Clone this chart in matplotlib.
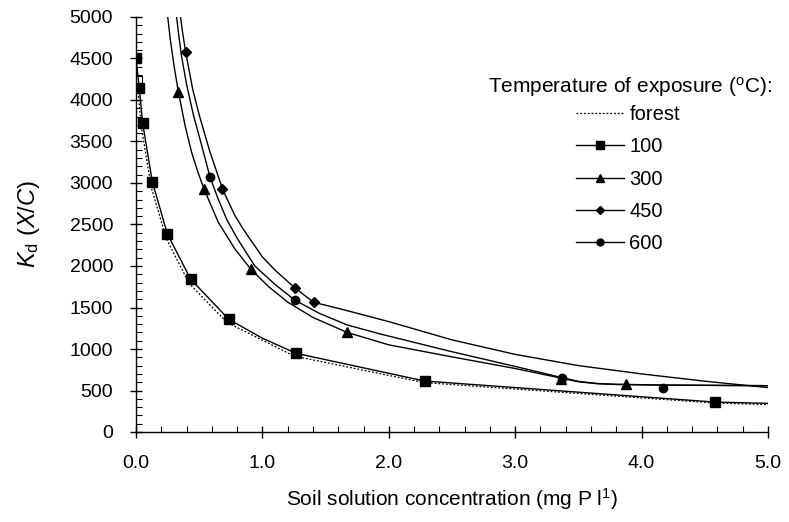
import numpy as np
import matplotlib
matplotlib.use("Agg")
from matplotlib import pyplot as plt
from matplotlib.ticker import MultipleLocator, FormatStrFormatter

plt.rcParams['font.family'] = ['Liberation Sans', 'DejaVu Sans']
plt.rcParams['mathtext.fontset'] = 'custom'
plt.rcParams['mathtext.rm'] = 'Liberation Sans'
plt.rcParams['mathtext.it'] = 'Liberation Sans:italic'

# --- data ---
# forest (dotted line, open square at first point)
forest_x = [0.01, 0.04, 0.12, 0.24, 0.42, 0.72, 1.25, 2.28, 4.57, 5.0]
forest_y = [4229, 3700, 2950, 2330, 1790, 1320, 915, 595, 350, 330]

# 100 degC
t100_x = [0.0, 0.026, 0.052, 0.129, 0.248, 0.433, 0.734, 1.266, 2.285, 4.577]
t100_y = [4502, 4148, 3726, 3016, 2386, 1840, 1358, 948, 614, 361]
t100_curve_x = [0.0, 0.026, 0.052, 0.129, 0.248, 0.433, 0.734, 1.0, 1.266, 2.285, 4.577, 5.0]
t100_curve_y = [4502, 4148, 3726, 3016, 2386, 1840, 1358, 1130, 948, 614, 361, 345]

# 300 degC
t300_x = [0.335, 0.538, 0.909, 1.67, 3.36, 3.88]
t300_y = [4100, 2928, 1960, 1201, 640, 575]
t300_curve_x = [0.24, 0.27, 0.30, 0.335, 0.39, 0.44, 0.49, 0.538, 0.65, 0.78, 0.909, 1.05,
                1.2, 1.4, 1.67, 2.0, 2.5, 3.0, 3.36, 3.5, 3.65, 3.8, 4.2, 5.0]
t300_curve_y = [5150, 4745, 4420, 4100, 3680, 3370, 3130, 2928, 2530, 2210, 1960, 1750,
                1565, 1380, 1200, 1050, 905, 765, 650, 605, 582, 572, 564, 558]

# 450 degC
t450_x = [0.393, 0.684, 1.255, 1.405]
t450_y = [4574, 2928, 1739, 1563]
t450_curve_x = [0.34, 0.365, 0.393, 0.45, 0.50, 0.58, 0.684, 0.78, 0.85, 1.0, 1.1, 1.255,
                1.405, 1.6, 2.0, 2.5, 3.0, 3.5, 4.0, 4.5, 5.0]
t450_curve_y = [5150, 4850, 4574, 4120, 3820, 3400, 2928, 2615, 2440, 2110, 1950, 1739,
                1563, 1490, 1330, 1110, 935, 800, 700, 612, 535]

# 600 degC
t600_x = [0.586, 1.255, 3.37, 4.17]
t600_y = [3068, 1590, 655, 534]
t600_curve_x = [0.31, 0.335, 0.36, 0.40, 0.454, 0.52, 0.586, 0.65, 0.718, 0.8, 0.94, 1.1,
                1.255, 1.45, 1.67, 1.935, 2.5, 3.0, 3.37, 3.5, 3.65, 3.8, 4.17, 5.0]
t600_curve_y = [5150, 4820, 4530, 4190, 3820, 3450, 3068, 2808, 2560, 2335, 2000, 1778,
                1590, 1430, 1290, 1180, 967, 790, 655, 610, 584, 575, 566, 558]

legend_labels = ['forest', '100', '300', '450', '600']

fig = plt.figure(figsize=(7.89, 5.22), dpi=100)
ax = fig.add_axes([136 / 789, 1 - 432 / 522, (768 - 136) / 789, (432 - 17) / 522])

lw = 1.0
h_forest, = ax.plot(forest_x, forest_y, color='black', lw=0.9, ls=(0, (1.5, 1.5)))
ax.plot(forest_x[:1], forest_y[:1], 's', ms=7.5, mfc='white', mec='black', mew=0.8)

ax.plot(t100_curve_x, t100_curve_y, color='black', lw=lw)
ax.plot(t100_x, t100_y, 's', color='black', ms=7.5)
ax.plot(t300_curve_x, t300_curve_y, color='black', lw=lw)
ax.plot(t300_x, t300_y, '^', color='black', ms=7)
ax.plot(t450_curve_x, t450_curve_y, color='black', lw=lw)
ax.plot(t450_x, t450_y, 'D', color='black', ms=5.5)
ax.plot(t600_curve_x, t600_curve_y, color='black', lw=lw)
ax.plot(t600_x, t600_y, 'o', color='black', ms=6)

# legend handles
h100, = ax.plot([], [], '-s', color='black', lw=lw, ms=6)
h300, = ax.plot([], [], '-^', color='black', lw=lw, ms=6)
h450, = ax.plot([], [], '-D', color='black', lw=lw, ms=4.5)
h600, = ax.plot([], [], '-o', color='black', lw=lw, ms=5)

ax.set_xlim(0, 5)
ax.set_ylim(0, 5000)
ax.spines['top'].set_visible(False)
ax.spines['right'].set_visible(False)
for s in ['left', 'bottom']:
    ax.spines[s].set_linewidth(1.0)

ax.xaxis.set_major_locator(MultipleLocator(1.0))
ax.xaxis.set_minor_locator(MultipleLocator(0.2))
ax.xaxis.set_major_formatter(FormatStrFormatter('%.1f'))
ax.yaxis.set_major_locator(MultipleLocator(500))
ax.yaxis.set_minor_locator(MultipleLocator(100))
ax.tick_params(axis='both', which='major', direction='inout', length=9, width=1.0, labelsize=14)
ax.tick_params(axis='both', which='minor', direction='in', length=4, width=0.8)
ax.tick_params(axis='x', which='major', pad=12)
ax.tick_params(axis='y', which='major', pad=12)

ax.set_xlabel(r'Soil solution concentration (mg P l$^{1}$)', fontsize=15, labelpad=10)
ax.set_ylabel(r'$K_{\mathrm{d}}$ $(X/C)$', fontsize=17, labelpad=20)

fig.text(772 / 789, 1 - 87 / 522, r'Temperature of exposure ($^{\mathrm{o}}$C):',
         ha='right', va='center', fontsize=15)
ax.legend([h_forest, h100, h300, h450, h600], legend_labels,
          loc='upper left', bbox_to_anchor=(566 / 789, 1 - 95 / 522),
          bbox_transform=fig.transFigure, frameon=False, fontsize=14.5,
          handlelength=2.4, handletextpad=0.25, labelspacing=0.66, borderpad=0)

fig.savefig('out.png', dpi=100)
